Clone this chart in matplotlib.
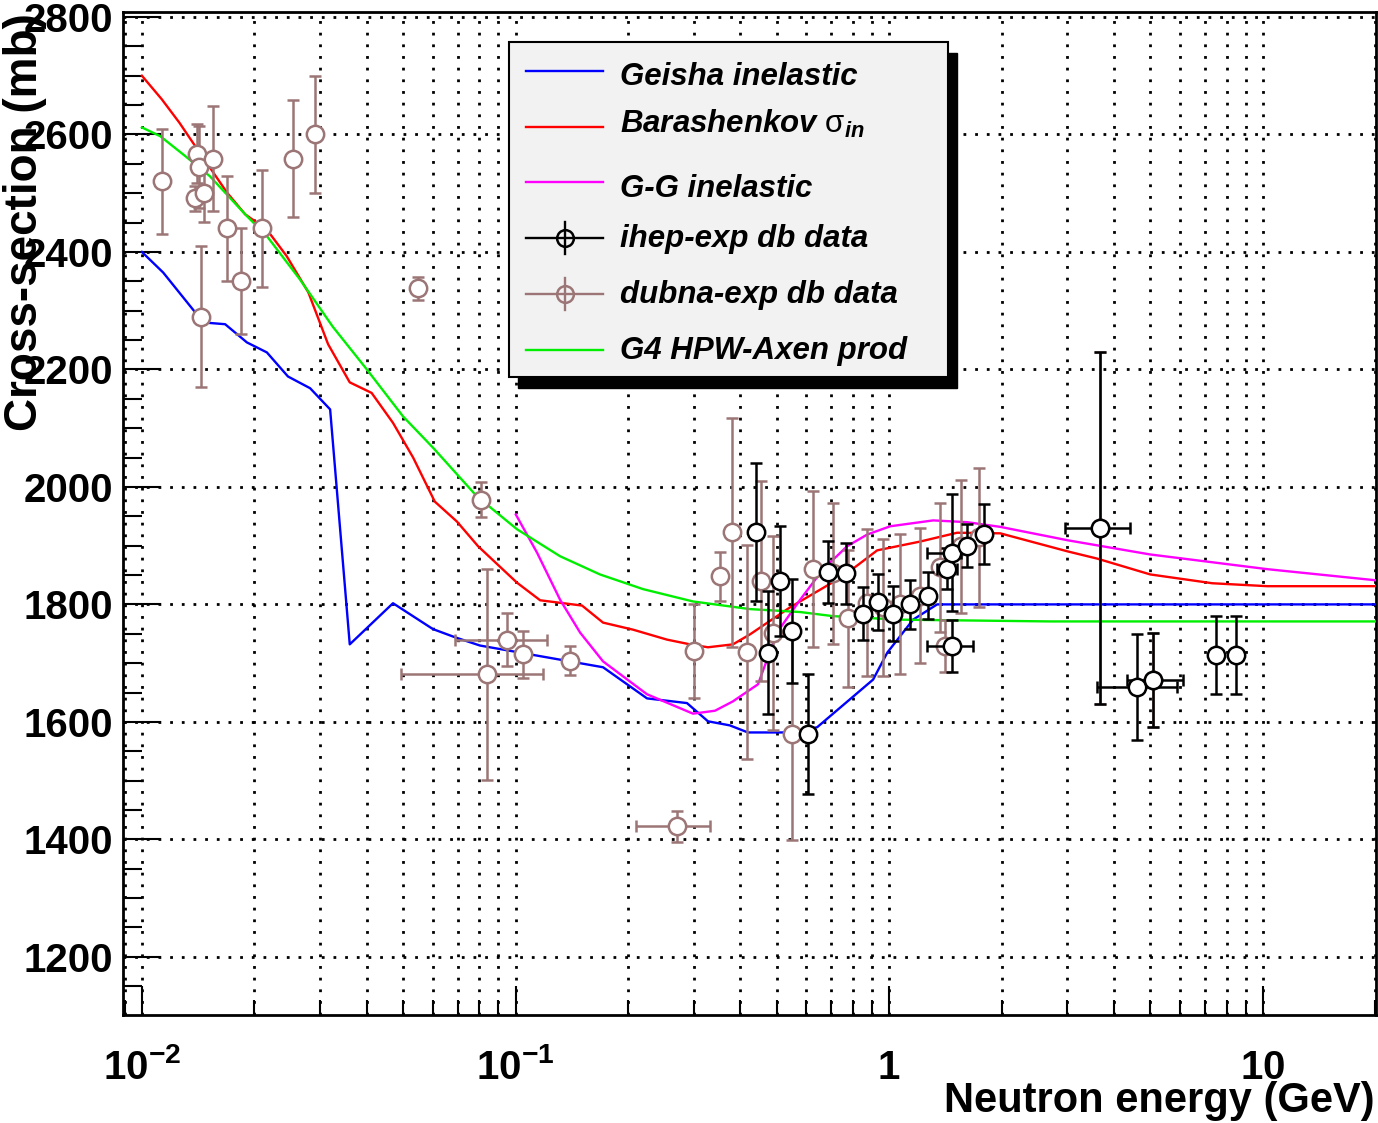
import matplotlib
matplotlib.use("Agg")
import matplotlib.pyplot as plt
import numpy as np
from matplotlib.lines import Line2D
from matplotlib.patches import Rectangle
from matplotlib.ticker import FixedLocator, FixedFormatter, MultipleLocator, NullFormatter

# --- model curves (energy in GeV, cross-section in mb) ---
geisha_e = [0.0100, 0.0114, 0.0146, 0.0167, 0.0191, 0.0216, 0.0246, 0.0282, 0.0319, 0.0360,
            0.0470, 0.0601, 0.0689, 0.0803, 0.1715, 0.2249, 0.2877, 0.3274, 0.3749, 0.4188,
            0.567, 0.642, 0.906, 0.989, 1.159, 1.344, 20.1]
geisha_y = [2400, 2365, 2280, 2277, 2246, 2229, 2188, 2168, 2132, 1732,
            1802, 1758, 1744, 1730, 1693, 1640, 1632, 1601, 1594, 1582,
            1582, 1591, 1672, 1718, 1774, 1800, 1800]

barash_e = [0.0100, 0.0113, 0.0126, 0.0140, 0.0169, 0.0189, 0.0216, 0.0244, 0.0279, 0.0315,
            0.0360, 0.0412, 0.0470, 0.0532, 0.0608, 0.0697, 0.0794, 0.1009, 0.1164, 0.1507,
            0.1715, 0.2063, 0.2545, 0.2931, 0.3274, 0.3820, 0.4243, 0.5430, 0.753, 0.929,
            1.211, 1.520, 1.983, 3.015, 3.603, 5.00, 7.33, 10.28, 20.1]
barash_y = [2700, 2660, 2620, 2577, 2501, 2464, 2438, 2393, 2331, 2243,
            2178, 2160, 2109, 2050, 1975, 1941, 1899, 1837, 1807, 1798,
            1769, 1757, 1740, 1732, 1727, 1732, 1749, 1795, 1848, 1892,
            1907, 1922, 1921, 1890, 1878, 1851, 1836, 1831, 1831]

gg_e = [0.1002, 0.1142, 0.1316, 0.1489, 0.1715, 0.2249, 0.2986, 0.3420, 0.3820, 0.4457,
        0.5010, 0.578, 0.666, 0.772, 0.874, 1.007, 1.312, 1.617, 1.983, 3.015,
        5.00, 10.28, 20.1]
gg_y = [1953, 1888, 1808, 1752, 1703, 1647, 1614, 1619, 1635, 1664,
        1752, 1808, 1860, 1899, 1919, 1933, 1943, 1940, 1932, 1909,
        1885, 1860, 1841]

hpw_e = [0.0100, 0.0112, 0.0129, 0.0152, 0.0191, 0.0216, 0.0265, 0.0324, 0.0400, 0.0500,
         0.0601, 0.0788, 0.1009, 0.1316, 0.1683, 0.2195, 0.2986, 0.4243, 0.578, 0.708,
         1.070, 2.698, 20.1]
hpw_y = [2612, 2597, 2566, 2529, 2461, 2427, 2353, 2273, 2200, 2120,
         2067, 1984, 1928, 1882, 1851, 1826, 1805, 1792, 1787, 1780,
         1774, 1771, 1771]

# --- dubna-exp db data ---
dubna_e = [0.0113, 0.0140, 0.0142, 0.0139, 0.0147, 0.0155, 0.0144, 0.0169, 0.0184, 0.0210,
           0.0254, 0.0291, 0.0548, 0.0808, 0.0840, 0.0951, 0.1049, 0.140, 0.2702, 0.3006,
           0.3527, 0.3804, 0.4159, 0.4539, 0.4898, 0.5488, 0.6266, 0.708, 0.776, 0.874,
           0.964, 1.070, 1.211, 1.370, 1.410, 1.560, 1.740, 3.673, 5.10]
dubna_y = [2520, 2567, 2545, 2491, 2501, 2559, 2290, 2440, 2350, 2440,
           2559, 2600, 2338, 1978, 1681, 1740, 1715, 1704, 1422, 1721,
           1848, 1923, 1719, 1840, 1752, 1579, 1860, 1853, 1776, 1803,
           1795, 1800, 1815, 1863, 1729, 1899, 1914, 1930, 1671]
dubna_dy = [90, 50, 70, 22, 50, 90, 120, 90, 90, 100,
            100, 100, 20, 30, 180, 45, 40, 25, 27, 80,
            42, 195, 182, 170, 165, 180, 133, 120, 117, 125,
            117, 119, 115, 110, 44, 113, 118, 300, 80]
dubna_xlo = [None, None, None, None, None, None, None, None, None, None,
             None, None, None, None, 0.0495, 0.0689, None, None, 0.2102, None,
             None, None, None, None, None, None, None, None, None, None,
             None, None, None, None, None, None, None, None, None]
dubna_xhi = [None, None, None, None, None, None, None, None, None, None,
             None, None, None, None, 0.1182, 0.1212, None, None, 0.3318, None,
             None, None, None, None, None, None, None, None, None, None,
             None, None, None, None, None, None, None, None, None]

# --- ihep-exp db data ---
ihep_e = [0.4396, 0.4753, 0.5106, 0.5488, 0.6053, 0.688, 0.767, 0.853, 0.935, 1.023,
          1.134, 1.269, 1.426, 1.472, 1.615, 1.80, 1.472, 3.673, 4.60, 5.10,
          7.49, 8.48]
ihep_y = [1923, 1718, 1840, 1755, 1579, 1855, 1853, 1784, 1804, 1784,
          1800, 1815, 1861, 1888, 1900, 1920, 1729, 1930, 1660, 1671,
          1714, 1714]
ihep_dy = [118, 104, 93, 88, 102, 53, 52, 45, 47, 47,
           42, 40, 35, 100, 37, 51, 44, 300, 90, 80,
           66, 66]
ihep_xlo = [None, None, None, None, None, None, None, None, None, None,
            None, None, 1.342, 1.262, None, None, 1.262, 2.96, 3.60, 4.33,
            None, None]
ihep_xhi = [None, None, None, None, None, None, None, None, None, None,
            None, None, 1.524, 1.56, None, None, 1.675, 4.40, 5.89, 6.11,
            None, None]

y_ticks = [1200, 1400, 1600, 1800, 2000, 2200, 2400, 2600, 2800]
x_ticks = [0.01, 0.1, 1, 10]
x_tick_labels = [r"$\mathbf{10^{-2}}$", r"$\mathbf{10^{-1}}$", r"$\mathbf{1}$", r"$\mathbf{10}$"]

legend_labels = ["Geisha inelastic", r"Barashenkov $\mathrm{\sigma}_{in}$", "G-G inelastic",
                 "ihep-exp db data", "dubna-exp db data", "G4 HPW-Axen prod"]

BLUE = "#0000ff"
RED = "#ff0000"
MAGENTA = "#ff00ff"
GREEN = "#00ee00"
BROWN = "#9c7676"
BLACK = "#000000"

W, H = 1378, 1123

plt.rcParams["font.family"] = ["Liberation Sans", "DejaVu Sans"]
plt.rcParams["font.weight"] = "bold"
plt.rcParams["mathtext.fontset"] = "custom"
plt.rcParams["mathtext.rm"] = "Liberation Sans:weight=normal"
plt.rcParams["mathtext.bf"] = "Liberation Sans:bold"
plt.rcParams["mathtext.it"] = "Liberation Sans:bold:italic"
plt.rcParams["mathtext.default"] = "it"


def fxy(px, py):
    """pixel position in the 1378x1123 canvas -> figure fraction"""
    return px / W, 1 - py / H


def to_xerr(e, lo, hi):
    e = np.asarray(e, dtype=float)
    lo = np.array([np.nan if v is None else v for v in lo], dtype=float)
    hi = np.array([np.nan if v is None else v for v in hi], dtype=float)
    return np.vstack([e - lo, hi - e])


def draw_points(ax, e, y, dy, lo, hi, color, z):
    ax.errorbar(
        e, y, yerr=dy, xerr=to_xerr(e, lo, hi),
        fmt="o", ms=12.5, mfc="white", mec=color, mew=1.8,
        ecolor=color, elinewidth=1.8, capsize=4.5, capthick=1.8, zorder=z,
    )


fig = plt.figure(figsize=(W / 100, H / 100), dpi=100)
ax = fig.add_axes([123 / W, (H - 1015) / H, (1376 - 123) / W, (1015 - 11.7) / H])

ax.set_xscale("log")
ax.set_xlim(0.0089, 20.1)
ax.set_ylim(1101, 2809)

grid_kw = dict(color="black", linestyle=(0, (1, 3.2)), linewidth=2.0)
ax.grid(which="major", axis="both", **grid_kw)
ax.grid(which="minor", axis="x", **grid_kw)
ax.set_axisbelow(True)

ax.plot(geisha_e, geisha_y, color=BLUE, lw=1.7, zorder=3)
ax.plot(barash_e, barash_y, color=RED, lw=1.7, zorder=3)
ax.plot(gg_e, gg_y, color=MAGENTA, lw=1.7, zorder=3)
ax.plot(hpw_e, hpw_y, color=GREEN, lw=1.7, zorder=3)

draw_points(ax, dubna_e, dubna_y, dubna_dy, dubna_xlo, dubna_xhi, BROWN, 4)
draw_points(ax, ihep_e, ihep_y, ihep_dy, ihep_xlo, ihep_xhi, BLACK, 5)

# axes / ticks
for side in ["left", "right", "top", "bottom"]:
    ax.spines[side].set_linewidth(2.0)
ax.yaxis.set_major_locator(FixedLocator(y_ticks))
ax.yaxis.set_minor_locator(MultipleLocator(50))
ax.xaxis.set_major_locator(FixedLocator(x_ticks))
ax.xaxis.set_major_formatter(FixedFormatter(x_tick_labels))
ax.xaxis.set_minor_formatter(NullFormatter())
ax.tick_params(axis="y", which="major", direction="in", length=27, width=1.5,
               labelsize=29, pad=7, right=False)
ax.tick_params(axis="y", which="minor", direction="in", length=14, width=1.5, right=False)
ax.tick_params(axis="x", which="major", direction="in", length=21, width=1.5,
               labelsize=29, pad=46, top=False)
ax.tick_params(axis="x", which="minor", direction="in", length=11, width=1.5, top=False)
for lab in ax.get_xticklabels():
    lab.set_verticalalignment("baseline")

# axis titles
fig.text(*fxy(1375, 1112), "Neutron energy (GeV)", ha="right", va="baseline",
         fontsize=30, weight="bold")
fig.text(*fxy(3, 13), "Cross-section (mb)", rotation=90, ha="left", va="top",
         fontsize=33, weight="bold")

# legend box (ROOT style, with solid shadow)
x0, y0, x1, y1 = 509, 42, 948, 377
sx, sy = 9, 11
fig.add_artist(Rectangle(fxy(x0 + sx, y1 + sy), (x1 - x0) / W, (y1 - y0) / H,
                         transform=fig.transFigure, facecolor="black",
                         edgecolor="black", zorder=10))
fig.add_artist(Rectangle(fxy(x0, y1), (x1 - x0) / W, (y1 - y0) / H,
                         transform=fig.transFigure, facecolor="#f2f2f2",
                         edgecolor="black", lw=1.5, zorder=11))

row_y = [71, 127, 182, 238, 294, 350]
row_base = [85, 133, 197, 247, 303, 359]
row_color = [BLUE, RED, MAGENTA, BLACK, BROWN, GREEN]
row_kind = ["line", "line", "line", "data", "data", "line"]
for label, ry, rb, col, kind in zip(legend_labels, row_y, row_base, row_color, row_kind):
    xa, ya = fxy(526, ry)
    xb, _ = fxy(603, ry)
    fig.add_artist(Line2D([xa, xb], [ya, ya], transform=fig.transFigure,
                          color=col, lw=1.7, zorder=12))
    if kind == "data":
        xm, _ = fxy(565, ry)
        _, yt = fxy(565, ry - 16)
        _, yb = fxy(565, ry + 16)
        fig.add_artist(Line2D([xm, xm], [yb, yt], transform=fig.transFigure,
                              color=col, lw=1.7, zorder=12))
        fig.add_artist(Line2D([xm], [ya], transform=fig.transFigure, marker="o",
                              ms=12, mfc="none", mec=col, mew=1.8, ls="none",
                              zorder=13))
    fig.text(*fxy(620, rb), label, ha="left", va="baseline", fontsize=22.5,
             weight="bold", style="italic", zorder=13)

fig.savefig("out.png", dpi=100)
